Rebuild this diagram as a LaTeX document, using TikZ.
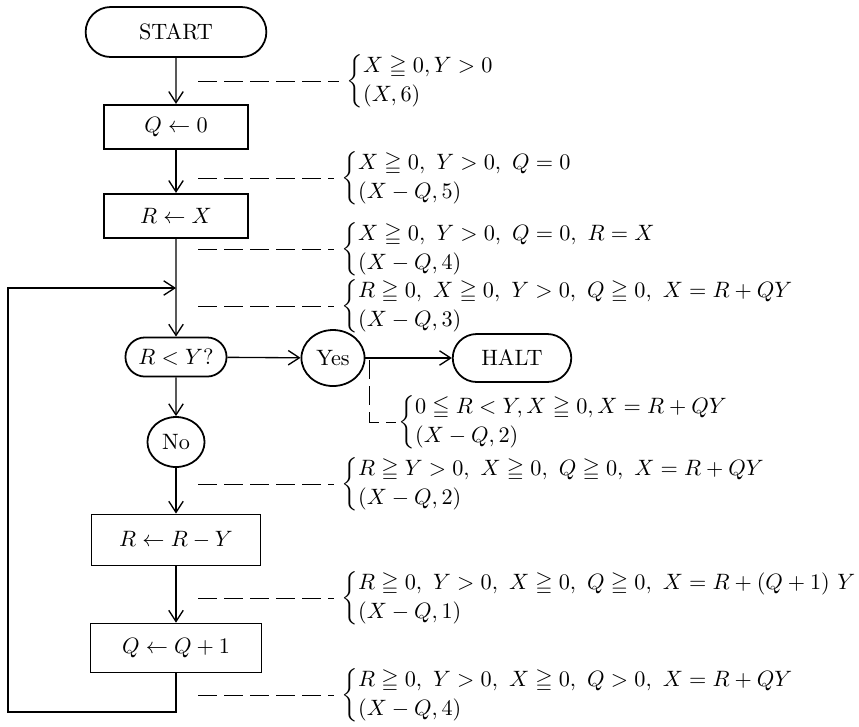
\documentclass[tikz,border=0pt]{standalone}
\usepackage{amsmath}
\usepackage{amssymb}
\usetikzlibrary{shapes,arrows.meta}
\renewcommand{\arraystretch}{1.1}

\begin{document}
\begin{tikzpicture}[x=0.45pt,y=-0.45pt,
    terminal/.style={rounded rectangle, draw, line width=0.8pt},
    procbox/.style={rectangle, draw, line width=0.8pt},
    answer/.style={ellipse, draw, line width=0.8pt, inner sep=1pt},
    flow/.style={-{Straight Barb[length=5pt,width=6.5pt]}, line width=0.6pt},
    dashline/.style={line width=0.4pt, dash pattern=on 8.5pt off 3.2pt},
    anno/.style={anchor=west, inner sep=0pt}]
    \useasboundingbox (0,0) rectangle (859,726);

    % Flow chart, main column
    \node[terminal, minimum width=88pt, minimum height=22.5pt] (start) at (176,32) {START};
    \node[procbox, minimum width=65pt, minimum height=20pt] (qzero) at (176,127) {$Q \leftarrow 0$};
    \node[procbox, minimum width=65pt, minimum height=20pt] (rx) at (176,216) {$R \leftarrow X$};
    \node[terminal, minimum width=49.5pt, minimum height=17.6pt, inner sep=2pt] (test) at (176,357) {$R < Y?$};
    \node[answer, minimum width=28.4pt, minimum height=25.2pt] (yes) at (333,358) {Yes};
    \node[terminal, minimum width=60pt, minimum height=21.6pt] (halt) at (512,358) {HALT};
    \node[answer, minimum width=25.7pt, minimum height=22.5pt] (no) at (176,442) {No};
    \node[procbox, minimum width=76pt, minimum height=23pt] (rsub) at (176,540) {$R \leftarrow R - Y$};
    \node[procbox, minimum width=77pt, minimum height=22pt] (qinc) at (176,648) {$Q \leftarrow Q + 1$};

    \draw[flow] (start) -- (qzero);
    \draw[flow] (qzero) -- (rx);
    \draw[flow] (rx) -- (test);
    \draw[flow] (test) -- (yes);
    \draw[flow] (yes) -- (halt);
    \draw[flow] (test) -- (no);
    \draw[flow] (no) -- (rsub);
    \draw[flow] (rsub) -- (qinc);

    % Loop back
    \coordinate (lowleft) at (8,712);
    \coordinate (upleft) at (8,288);
    \coordinate (merge) at (176,288);
    \draw[flow] (qinc.south) |- (lowleft) -- (upleft) -- (merge);

    % Assertions
    \foreach \i/\y/\xb/\first/\second in {
        1/81/346/{X \geqq 0, Y > 0}/{(X, 6)},
        2/178/341/{X \geqq 0,\ Y > 0,\ Q = 0}/{(X - Q, 5)},
        3/249/341/{X \geqq 0,\ Y > 0,\ Q = 0,\ R = X}/{(X - Q, 4)},
        4/306/341/{R \geqq 0,\ X \geqq 0,\ Y > 0,\ Q \geqq 0,\ X = R + QY}/{(X - Q, 3)},
        6/484/341/{R \geqq Y > 0,\ X \geqq 0,\ Q \geqq 0,\ X = R + QY}/{(X - Q, 2)},
        7/598/341/{R \geqq 0,\ Y > 0,\ X \geqq 0,\ Q \geqq 0,\ X = R + (Q + 1)\ Y}/{(X - Q, 1)},
        8/695/341/{R \geqq 0,\ Y > 0,\ X \geqq 0,\ Q > 0,\ X = R + QY}/{(X - Q, 4)}
    } {
        \coordinate (d\i) at (198,\y);
        \node[anno] (a\i) at (\xb,\y)
            {$\left\{\begin{array}{@{}l@{}} \first \\ \second \end{array}\right.$};
        \draw[dashline, shorten >=3pt] (d\i) -- (a\i.west);
    }

    % Assertion at the exit
    \node[anno] (a5) at (398,422)
        {$\left\{\begin{array}{@{}l@{}} 0 \leqq R < Y, X \geqq 0, X = R + QY \\ (X - Q, 2) \end{array}\right.$};
    \draw[dashline, shorten >=1pt] ([xshift=2pt,yshift=-1pt]yes.east) |- (a5.west);

\end{tikzpicture}
\end{document}
